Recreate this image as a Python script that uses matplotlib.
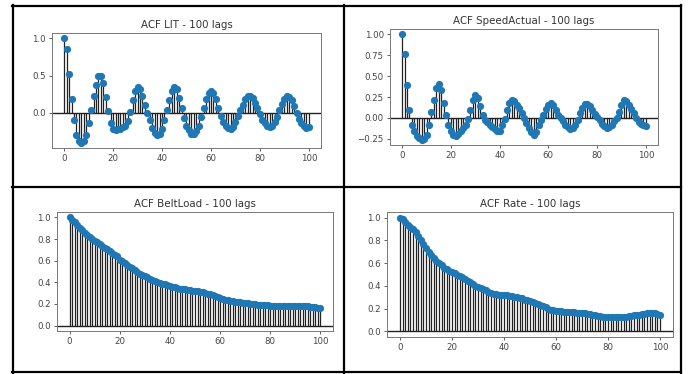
import numpy as np
import matplotlib
matplotlib.use("Agg")
import matplotlib.pyplot as plt
from matplotlib.lines import Line2D

lags = list(range(101))

acf_lit = [1.00, 0.85, 0.52, 0.19, -0.09, -0.29, -0.38, -0.40, -0.38, -0.29,
           -0.14, 0.04, 0.22, 0.38, 0.49, 0.50, 0.40, 0.21, 0.03, -0.14,
           -0.21, -0.23, -0.22, -0.21, -0.19, -0.17, -0.11, 0.01, 0.17, 0.29,
           0.35, 0.32, 0.22, 0.11, 0.00, -0.10, -0.20, -0.27, -0.29, -0.28,
           -0.22, -0.09, 0.04, 0.17, 0.29, 0.35, 0.32, 0.20, 0.07, -0.07,
           -0.17, -0.23, -0.28, -0.28, -0.24, -0.17, -0.05, 0.07, 0.18, 0.26,
           0.29, 0.26, 0.18, 0.07, -0.04, -0.12, -0.17, -0.20, -0.21, -0.19,
           -0.12, -0.04, 0.04, 0.11, 0.19, 0.22, 0.22, 0.20, 0.13, 0.07,
           -0.02, -0.09, -0.14, -0.18, -0.19, -0.17, -0.12, -0.05, 0.04, 0.12,
           0.19, 0.22, 0.21, 0.17, 0.09, 0.00, -0.08, -0.14, -0.18, -0.20,
           -0.19]

acf_speed = [1.00, 0.77, 0.39, 0.10, -0.08, -0.16, -0.22, -0.24, -0.26, -0.25,
             -0.20, -0.08, 0.07, 0.22, 0.36, 0.41, 0.34, 0.18, 0.03, -0.09,
             -0.16, -0.20, -0.21, -0.19, -0.16, -0.12, -0.08, -0.01, 0.10, 0.22,
             0.27, 0.24, 0.14, 0.04, -0.02, -0.05, -0.08, -0.11, -0.13, -0.16,
             -0.15, -0.09, -0.01, 0.10, 0.18, 0.22, 0.20, 0.16, 0.12, 0.06,
             0.00, -0.06, -0.12, -0.17, -0.20, -0.17, -0.09, -0.02, 0.04, 0.11,
             0.16, 0.18, 0.16, 0.10, 0.04, 0.00, -0.04, -0.08, -0.11, -0.13,
             -0.12, -0.08, -0.02, 0.06, 0.12, 0.17, 0.17, 0.14, 0.09, 0.05,
             0.01, -0.03, -0.07, -0.10, -0.12, -0.11, -0.08, -0.04, 0.00, 0.07,
             0.15, 0.22, 0.20, 0.16, 0.11, 0.06, 0.00, -0.05, -0.07, -0.08,
             -0.10]

acf_belt = [1.00, 0.98, 0.955, 0.93, 0.905, 0.88, 0.86, 0.84, 0.82, 0.80,
            0.785, 0.77, 0.755, 0.74, 0.72, 0.705, 0.69, 0.67, 0.655, 0.64,
            0.61, 0.595, 0.58, 0.56, 0.545, 0.53, 0.51, 0.495, 0.48, 0.465,
            0.455, 0.445, 0.435, 0.425, 0.415, 0.405, 0.395, 0.388, 0.38, 0.375,
            0.368, 0.36, 0.355, 0.348, 0.342, 0.338, 0.334, 0.33, 0.327, 0.324,
            0.32, 0.317, 0.313, 0.308, 0.302, 0.296, 0.29, 0.282, 0.273, 0.264,
            0.255, 0.248, 0.241, 0.235, 0.23, 0.225, 0.221, 0.218, 0.215, 0.212,
            0.209, 0.206, 0.203, 0.20, 0.197, 0.194, 0.192, 0.19, 0.188, 0.186,
            0.185, 0.184, 0.183, 0.182, 0.181, 0.181, 0.18, 0.18, 0.18, 0.18,
            0.18, 0.18, 0.179, 0.179, 0.178, 0.177, 0.176, 0.174, 0.171, 0.167,
            0.162]

acf_rate = [1.00, 0.985, 0.96, 0.94, 0.92, 0.90, 0.87, 0.835, 0.80, 0.765,
            0.73, 0.70, 0.67, 0.645, 0.62, 0.60, 0.58, 0.56, 0.545, 0.53,
            0.52, 0.51, 0.50, 0.49, 0.475, 0.46, 0.445, 0.43, 0.415, 0.40,
            0.39, 0.38, 0.37, 0.36, 0.35, 0.34, 0.33, 0.325, 0.32, 0.32,
            0.32, 0.32, 0.315, 0.31, 0.305, 0.30, 0.295, 0.29, 0.28, 0.275,
            0.27, 0.26, 0.25, 0.24, 0.23, 0.22, 0.21, 0.20, 0.19, 0.185,
            0.18, 0.178, 0.176, 0.174, 0.172, 0.17, 0.168, 0.166, 0.164, 0.162,
            0.16, 0.157, 0.153, 0.149, 0.145, 0.14, 0.136, 0.132, 0.129, 0.127,
            0.125, 0.124, 0.124, 0.124, 0.125, 0.125, 0.127, 0.13, 0.133, 0.136,
            0.14, 0.144, 0.148, 0.152, 0.156, 0.16, 0.162, 0.162, 0.16, 0.155,
            0.145]

titles = ["ACF LIT - 100 lags", "ACF SpeedActual - 100 lags",
          "ACF BeltLoad - 100 lags", "ACF Rate - 100 lags"]
series = [acf_lit, acf_speed, acf_belt, acf_rate]
yticks = [[0.0, 0.5, 1.0],
          [-0.25, 0.0, 0.25, 0.5, 0.75, 1.0],
          [0.0, 0.2, 0.4, 0.6, 0.8, 1.0],
          [0.0, 0.2, 0.4, 0.6, 0.8, 1.0]]
yfmt = ["{:.1f}", "{:.2f}", "{:.1f}", "{:.1f}"]
xticks = [0, 20, 40, 60, 80, 100]

W, H = 688, 374
# axes boxes in pixels: left, top, right, bottom
boxes = [(52, 33, 321, 148), (390, 29, 658, 145),
         (57, 212, 333, 331), (387, 212, 673, 337)]

fig = plt.figure(figsize=(W / 100, H / 100), dpi=100)
fig.patch.set_facecolor("white")

for (l, t, r, b), vals, title, yt, fm in zip(boxes, series, titles, yticks, yfmt):
    ax = fig.add_axes([l / W, 1 - b / H, (r - l) / W, (b - t) / H])
    v = np.array(vals)
    ax.vlines(lags, 0, v, colors="#222222", lw=0.9)
    ax.axhline(0, color="#222222", lw=1.0)
    ax.plot(lags, v, "o", color="#1f77b4", markersize=5.2, markeredgewidth=0)
    lo, hi = min(0, v.min()), max(0, v.max())
    rng = hi - lo
    ax.set_ylim(lo - 0.05 * rng, hi + 0.05 * rng)
    ax.set_xlim(-5, 105)
    ax.set_xticks(xticks)
    ax.set_yticks(yt)
    ax.set_yticklabels([fm.format(y).replace("-", "\u2212") for y in yt])
    ax.set_title(title, fontsize=7.4, color="#333333", pad=3.5)
    ax.tick_params(labelsize=6.2, colors="#444444", length=2.5, width=0.6, pad=2)
    for s in ax.spines.values():
        s.set_color("#777777")
        s.set_linewidth(0.7)

# grid borders
def fline(x0, y0, x1, y1):
    fig.add_artist(Line2D([x0 / W, x1 / W], [1 - y0 / H, 1 - y1 / H],
                          color="black", lw=1.6, transform=fig.transFigure))

fline(12, 5.5, 681, 5.5)
fline(12, 372, 681, 372)
fline(12.5, 5, 12.5, 373)
fline(681, 5, 681, 373)
fline(344, 5, 344, 373)
fline(12, 187, 681, 187)

fig.savefig("out.png", dpi=100)
